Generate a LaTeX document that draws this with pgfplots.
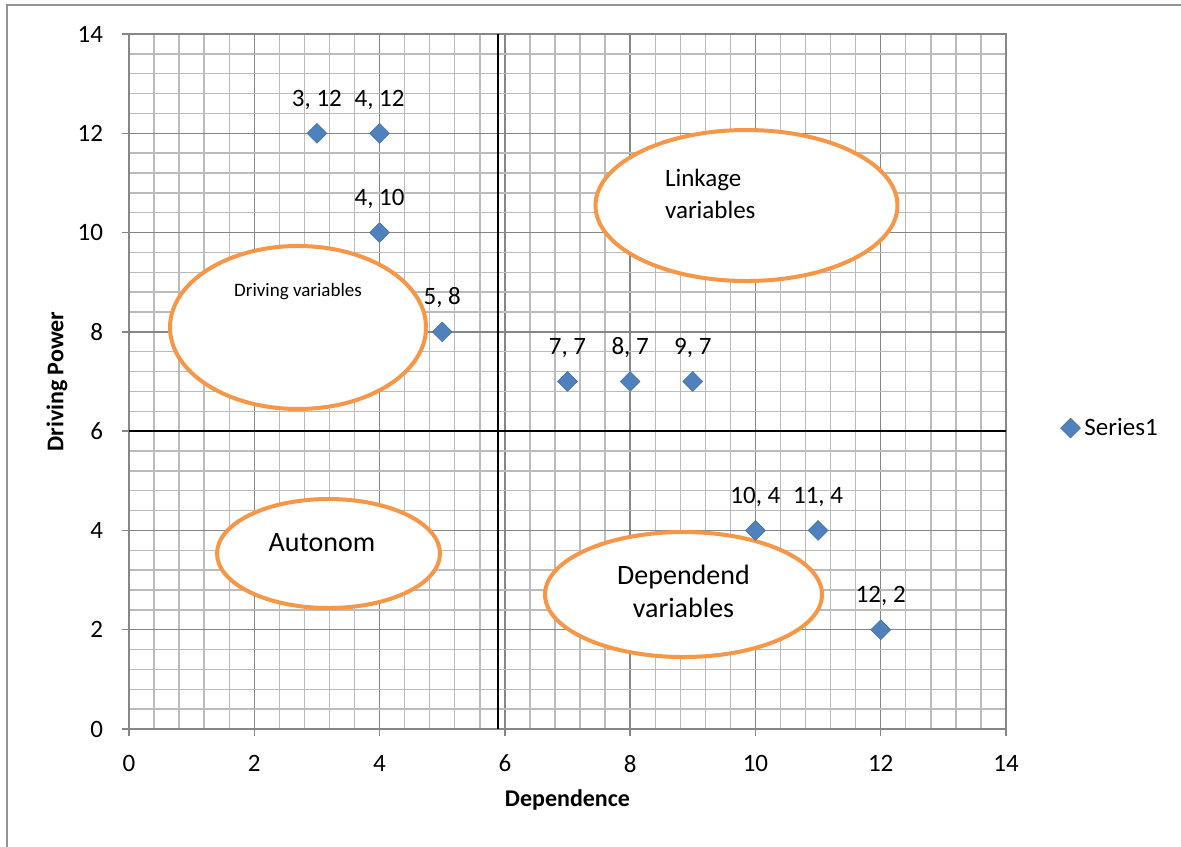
\documentclass[border=0pt]{standalone}
\usepackage{fontspec}
\setmainfont{Carlito}
\usepackage{pgfplots}
\usepackage{pgfplotstable}
\pgfplotsset{compat=1.18}

\definecolor{xlblue}{HTML}{4F81BD}
\definecolor{xlorange}{HTML}{F79646}
\definecolor{majgrid}{HTML}{868686}
\definecolor{mingrid}{HTML}{BBBBBB}

% points of the matrix (dependence, driving power)
\pgfplotstableread{
x  y  lab
3  12 {3, 12}
4  12 {4, 12}
4  10 {4, 10}
5  8  {5, 8}
7  7  {7, 7}
8  7  {8, 7}
9  7  {9, 7}
10 4  {10, 4}
11 4  {11, 4}
12 2  {12, 2}
}\pts

\begin{document}
\begin{tikzpicture}
\begin{axis}[
    at={(0,0)}, anchor=south west,
    scale only axis,
    width=438.5pt, height=347.5pt,
    xmin=0, xmax=14, ymin=0, ymax=14,
    xtick={0,2,...,14}, ytick={0,2,...,14},
    minor tick num=4,
    grid=both,
    major grid style={majgrid, line width=0.7pt},
    minor grid style={mingrid, line width=0.7pt},
    axis line style={majgrid, line width=0.8pt},
    tick pos=left, tick align=outside,
    major tick length=3.5pt, minor tick length=0pt,
    tick style={majgrid, line width=0.7pt},
    /pgf/number format/assume math mode=true,
    tick label style={font=\fontsize{12.5}{14}\selectfont},
    xticklabel style={yshift=-6pt},
    yticklabel style={xshift=-6pt},
    xlabel={\textbf{Dependence}},
    ylabel={\textbf{Driving Power}},
    label style={font=\fontsize{12}{14}\selectfont},
    xlabel style={at={(axis description cs:0.5,-0.1022)}, anchor=center},
    ylabel style={at={(axis description cs:-0.0821,0.5)}, anchor=center},
    legend style={at={(axis description cs:1.055,0.433)}, anchor=west,
        draw=none, fill=none, font=\fontsize{12.5}{14}\selectfont},
    legend cell align=left,
]

% quadrant ellipses
\draw[xlorange, line width=2pt, fill=white] (axis cs:2.698,8.088) ellipse [x radius=64pt, y radius=40.75pt];
\draw[xlorange, line width=2pt, fill=white] (axis cs:9.857,10.545) ellipse [x radius=75.5pt, y radius=37.75pt];
\draw[xlorange, line width=2pt, fill=white] (axis cs:3.185,3.535) ellipse [x radius=55.75pt, y radius=27.25pt];
\draw[xlorange, line width=2pt, fill=white] (axis cs:8.852,2.709) ellipse [x radius=69.25pt, y radius=31.25pt];

\node[font=\fontsize{9.5}{11}\selectfont] at (axis cs:2.698,8.803) {Driving variables};
\node[anchor=west, align=left, font=\fontsize{12.5}{16}\selectfont] at (axis cs:8.445,10.777) {Linkage\\variables};
\node[font=\fontsize{14}{17}\selectfont] at (axis cs:3.081,3.747) {Autonom};
\node[align=center, font=\fontsize{14}{16.5}\selectfont] at (axis cs:8.852,2.77) {Dependend\\variables};

% quadrant dividers
\draw[black, line width=1pt] (axis cs:5.898,0) -- (axis cs:5.898,14);
\draw[black, line width=1pt] (axis cs:0,6) -- (axis cs:14,6);

\addplot[only marks, mark=square*, mark size=3.5pt,
    mark options={rotate=45, fill=xlblue, draw=xlblue!90!black, line width=0.3pt},
    point meta=explicit symbolic,
    nodes near coords,
    every node near coord/.append style={anchor=base, yshift=13.5pt,
        font=\fontsize{12.5}{14}\selectfont, text=black}]
    table[x=x, y=y, meta=lab] {\pts};
\addlegendentry{Series1}

\end{axis}
\draw[gray!85, line width=0.75pt] (-61pt,-80pt) -- (-61pt,362pt) -- (560pt,362pt);
\pgfresetboundingbox
\useasboundingbox (-64.5pt,-58.5pt) rectangle (526pt,364.5pt);
\end{tikzpicture}
\end{document}
